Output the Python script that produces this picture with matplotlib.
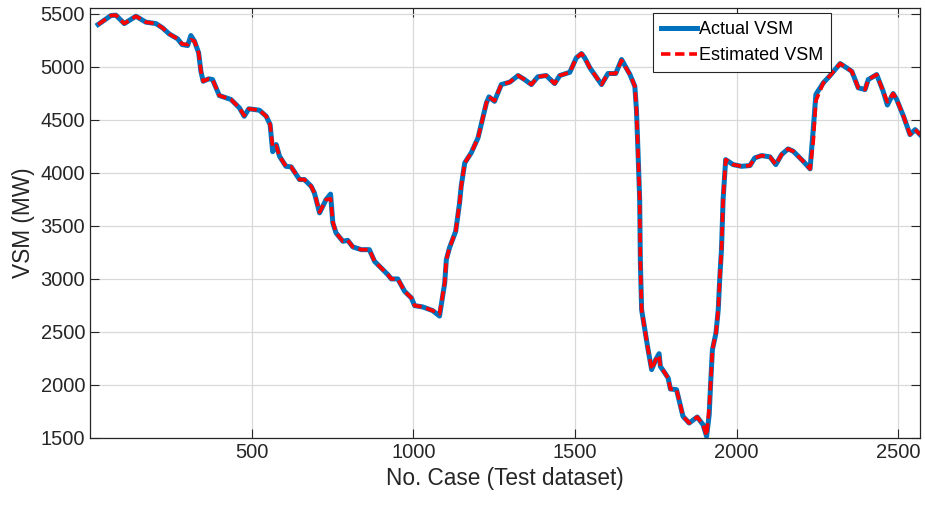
import matplotlib
matplotlib.use('Agg')
import matplotlib.pyplot as plt

# Values (case index, VSM in MW)
case_no = [25, 65, 80, 106, 142, 173, 204, 224, 245, 271, 285, 302, 312, 323, 336,
           343, 350, 367, 379, 400, 436, 462, 477, 491, 524, 545, 557, 565, 576, 586,
           606, 622, 648, 663, 684, 694, 710, 730, 744, 751, 761, 782, 797, 813, 839,
           864, 880, 921, 932, 952, 973, 994, 1004, 1029, 1060, 1081, 1097, 1102, 1112,
           1131, 1143, 1148, 1159, 1179, 1200, 1210, 1226, 1234, 1251, 1272, 1298, 1324,
           1344, 1365, 1385, 1411, 1437, 1453, 1484, 1504, 1520, 1530, 1546, 1582, 1602,
           1626, 1644, 1670, 1685, 1690, 1695, 1700, 1702, 1706, 1716, 1726, 1737, 1750,
           1760, 1764, 1778, 1788, 1795, 1814, 1824, 1834, 1853, 1878, 1896, 1907, 1915,
           1919, 1925, 1936, 1943, 1948, 1953, 1958, 1966, 1989, 2015, 2041, 2056, 2077,
           2103, 2121, 2139, 2159, 2175, 2206, 2227, 2237, 2245, 2268, 2289, 2320, 2340,
           2356, 2376, 2397, 2407, 2433, 2443, 2453, 2466, 2484, 2495, 2516, 2536, 2552,
           2567]

actual_vsm = [5399, 5484, 5487, 5408, 5477, 5421, 5408, 5368, 5310, 5264, 5210, 5201, 5295,
              5242, 5132, 4958, 4864, 4887, 4880, 4729, 4692, 4613, 4534, 4604, 4591, 4534,
              4456, 4200, 4267, 4157, 4062, 4057, 3937, 3937, 3874, 3811, 3623, 3748, 3800,
              3528, 3434, 3355, 3364, 3302, 3276, 3276, 3166, 3041, 3000, 3000, 2883, 2821,
              2748, 2736, 2701, 2650, 2962, 3182, 3295, 3449, 3717, 3874, 4094, 4189, 4330,
              4456, 4660, 4717, 4675, 4833, 4855, 4918, 4880, 4833, 4906, 4918, 4842, 4918,
              4949, 5085, 5125, 5085, 4991, 4833, 4937, 4937, 5069, 4927, 4817, 4597, 4189,
              3748, 3182, 2710, 2522, 2333, 2145, 2240, 2295, 2175, 2113, 2066, 1962, 1956,
              1830, 1704, 1641, 1698, 1625, 1515, 1720, 1987, 2333, 2491, 2710, 3025, 3276,
              3748, 4125, 4078, 4062, 4069, 4141, 4163, 4151, 4078, 4173, 4226, 4204, 4109,
              4038, 4420, 4740, 4849, 4918, 5031, 4991, 4958, 4802, 4786, 4880, 4927, 4849,
              4770, 4640, 4748, 4692, 4534, 4361, 4408, 4361]

estimated_vsm = [5399, 5484, 5487, 5408, 5477, 5421, 5408, 5368, 5310, 5264, 5215, 5210, 5255,
                 5242, 5132, 4958, 4864, 4887, 4880, 4729, 4692, 4613, 4540, 4604, 4591, 4534,
                 4456, 4240, 4255, 4157, 4062, 4057, 3937, 3937, 3874, 3811, 3630, 3748, 3755,
                 3540, 3434, 3355, 3364, 3302, 3276, 3276, 3166, 3041, 3000, 3000, 2883, 2821,
                 2748, 2736, 2701, 2670, 2962, 3182, 3295, 3449, 3717, 3874, 4094, 4189, 4330,
                 4456, 4660, 4717, 4680, 4833, 4855, 4918, 4880, 4833, 4906, 4918, 4842, 4918,
                 4949, 5085, 5125, 5085, 4991, 4833, 4937, 4937, 5060, 4927, 4817, 4597, 4189,
                 3748, 3182, 2710, 2522, 2333, 2145, 2240, 2280, 2175, 2113, 2066, 1962, 1956,
                 1830, 1704, 1641, 1698, 1625, 1520, 1790, 1987, 2333, 2491, 2710, 3025, 3276,
                 3748, 4125, 4078, 4062, 4069, 4141, 4163, 4151, 4078, 4173, 4226, 4204, 4109,
                 4038, 4300, 4680, 4849, 4918, 5031, 4991, 4958, 4802, 4786, 4880, 4927, 4849,
                 4770, 4670, 4748, 4692, 4534, 4361, 4408, 4361]

x_ticks = [500, 1000, 1500, 2000, 2500]
y_ticks = [1500, 2000, 2500, 3000, 3500, 4000, 4500, 5000, 5500]

plt.rcParams['font.family'] = ['Liberation Sans', 'DejaVu Sans']
text_color = '#262626'

fig = plt.figure(figsize=(9.25, 5.08), dpi=100)
ax = fig.add_axes([0.0973, 0.1378, 0.8973, 0.8465])

ax.plot(case_no, actual_vsm, color='#0072BD', linewidth=3.6, label='Actual VSM',
        solid_joinstyle='round')
ax.plot(case_no, estimated_vsm, color='#FF0000', linewidth=2.6, linestyle=(0, (2.6, 1.3)),
        label='Estimated VSM')

ax.set_xlim(0, 2567)
ax.set_ylim(1500, 5555)
ax.set_xticks(x_ticks)
ax.set_yticks(y_ticks)

ax.set_xlabel('No. Case (Test dataset)', fontsize=16.3, color=text_color, labelpad=4)
ax.set_ylabel('VSM (MW)', fontsize=16.3, color=text_color, labelpad=4)

ax.tick_params(axis='both', which='both', direction='in', top=True, right=True,
               labelsize=14.5, colors=text_color, length=6.5, width=0.8)
for spine in ax.spines.values():
    spine.set_color(text_color)
    spine.set_linewidth(0.9)

ax.grid(True, color='#d9d9d9', linewidth=0.9)
ax.set_axisbelow(True)

leg = ax.legend(loc='upper left', bbox_to_anchor=(0.678, 0.988), fontsize=13.0,
                frameon=True, fancybox=False, framealpha=1, edgecolor='#262626',
                handlelength=2.0, handletextpad=0.1, borderpad=0.45, labelspacing=0.5,
                borderaxespad=0)
leg.get_frame().set_linewidth(0.8)

fig.savefig('out.png', dpi=100)
plt.close(fig)
